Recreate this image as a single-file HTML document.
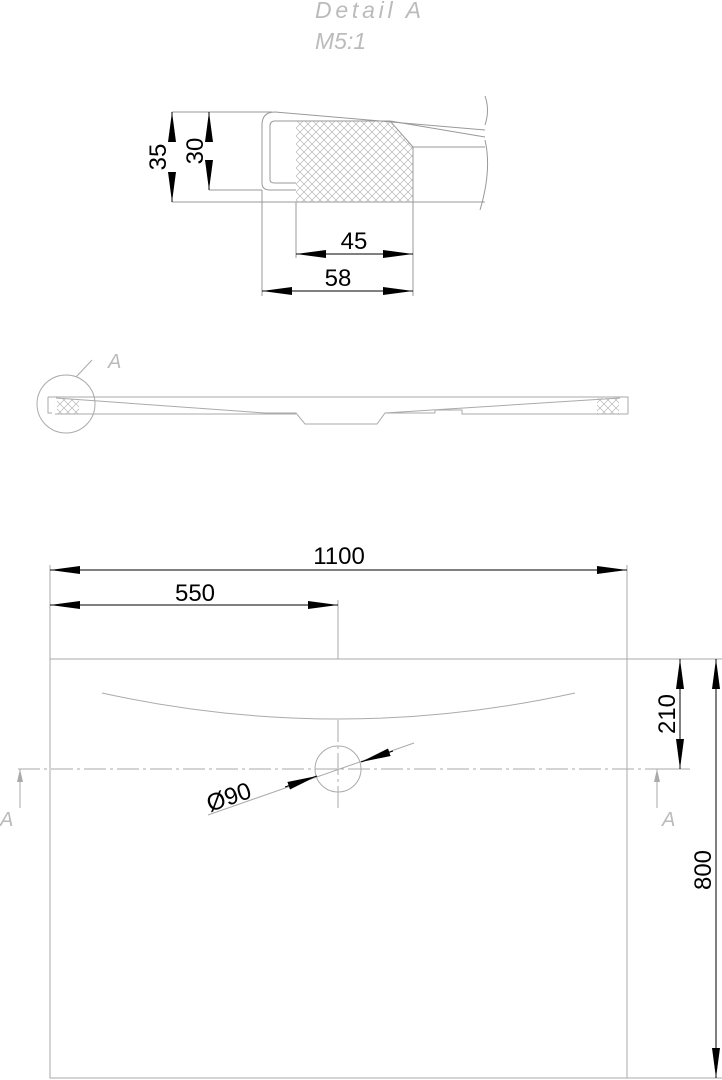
<!DOCTYPE html>
<html><head><style>body{margin:0;background:#fff}svg{display:block}</style></head><body>
<svg width="722" height="1080" viewBox="0 0 722 1080" xmlns="http://www.w3.org/2000/svg" font-family="Liberation Sans, sans-serif">
<defs>
<pattern id="h" width="8" height="8" patternUnits="userSpaceOnUse"><path d="M0 0L8 8M8 0L0 8" stroke="#aaa" stroke-width="0.6"/></pattern>
<marker id="a" viewBox="0 0 30 10" refX="30" refY="5" markerWidth="30" markerHeight="10" markerUnits="userSpaceOnUse" orient="auto-start-reverse"><path d="M0 1L30 5L0 9z" fill="#000"/></marker>
</defs>
<g fill="#bbb" font-style="italic" font-size="23"><text x="315" y="18" textLength="106">Detail  A</text><text x="315" y="49">M5:1</text></g>
<!-- detail -->
<rect x="296" y="121" width="117" height="81" fill="url(#h)"/>
<path d="M390 121L413 147V121z" fill="#fff"/>
<g fill="none" stroke="#999" stroke-width="1">
<path d="M172 112H272M209 190H262M172 202H485M262 190V296M296 202V258M413 202V296"/>
<path d="M485 96Q490 110 485 125M485 140Q492 170 480 210"/>
<path d="M275 112L485 130M413 147H485M296 121H390L413 147V202"/>
<path d="M275 112Q262 112 262 125V183Q262 190 270 190H296M296 121H275Q270 121 270 126V180Q270 183 275 183H296"/>
<path d="M390 121L485 137"/>
</g>
<g stroke="#000" stroke-width="1" fill="none">
<path d="M172 142V112" marker-end="url(#a)"/><path d="M172 172V202" marker-end="url(#a)"/>
<path d="M209 142V112" marker-end="url(#a)"/><path d="M209 160V190" marker-end="url(#a)"/>
<path d="M296 254H413" marker-start="url(#a)" marker-end="url(#a)"/>
<path d="M262 291H413" marker-start="url(#a)" marker-end="url(#a)"/>
</g>
<g font-size="24" fill="#000"><text x="354" y="249" text-anchor="middle">45</text><text x="338" y="286" text-anchor="middle">58</text>
<text transform="translate(166 157) rotate(-90)" text-anchor="middle">35</text><text transform="translate(203 151) rotate(-90)" text-anchor="middle">30</text></g>
<!-- side section -->
<g fill="none" stroke="#aaa" stroke-width="1">
<circle cx="66" cy="404" r="29"/><path d="M76 377L92 360"/>
<path d="M48 397H628V410M48 397V413H52M56 398L265 413H296L305 424H377L385 413L620 398M55 414H296M385 413H435M435 413L435 410H462L462 414H628M628 410V414"/>
</g>
<text x="108" y="368" font-size="20" font-style="italic" fill="#bbb">A</text>
<rect x="57" y="399" width="22" height="15" fill="url(#h)"/><rect x="597" y="398" width="22" height="16" fill="url(#h)"/>
<!-- plan -->
<g fill="none" stroke="#aaa" stroke-width="1">
<rect x="50" y="659" width="577" height="419"/>
<path d="M50 565V659M627 565V659M338 600V659M627 659H722M627 1078H722M650 769H690"/>
<path d="M102 693Q338 745 575 693"/>
<circle cx="338" cy="769" r="23"/>
<path d="M18 769H660M338 720V812" stroke-dasharray="22 4 3 4"/>
<path d="M208 815L414 743"/>
</g>
<g stroke="#000" stroke-width="1" fill="none">
<path d="M50 570H627" marker-start="url(#a)" marker-end="url(#a)"/>
<path d="M50 605H338" marker-start="url(#a)" marker-end="url(#a)"/>
<path d="M680 659V769" marker-start="url(#a)" marker-end="url(#a)"/>
<path d="M716 659V1078" marker-start="url(#a)" marker-end="url(#a)"/>
<path d="M285 787L317 776" marker-end="url(#a)"/><path d="M393 751L361 762" marker-end="url(#a)"/>
</g>
<g stroke="#aaa" fill="none"><path d="M20 808V769M657 808V769"/></g>
<path d="M17 782L20 769L23 782z M654 782L657 769L660 782z" fill="#aaa"/>
<g font-size="20" font-style="italic" fill="#bbb"><text x="0" y="826">A</text><text x="662" y="826">A</text></g>
<g font-size="24" fill="#000"><text x="339" y="564" text-anchor="middle">1100</text><text x="195" y="601" text-anchor="middle">550</text>
<text transform="translate(675 714) rotate(-90)" text-anchor="middle">210</text><text transform="translate(711 870) rotate(-90)" text-anchor="middle">800</text>
<text transform="translate(210 812) rotate(-19)">Ø90</text></g>
</svg>
</body></html>
